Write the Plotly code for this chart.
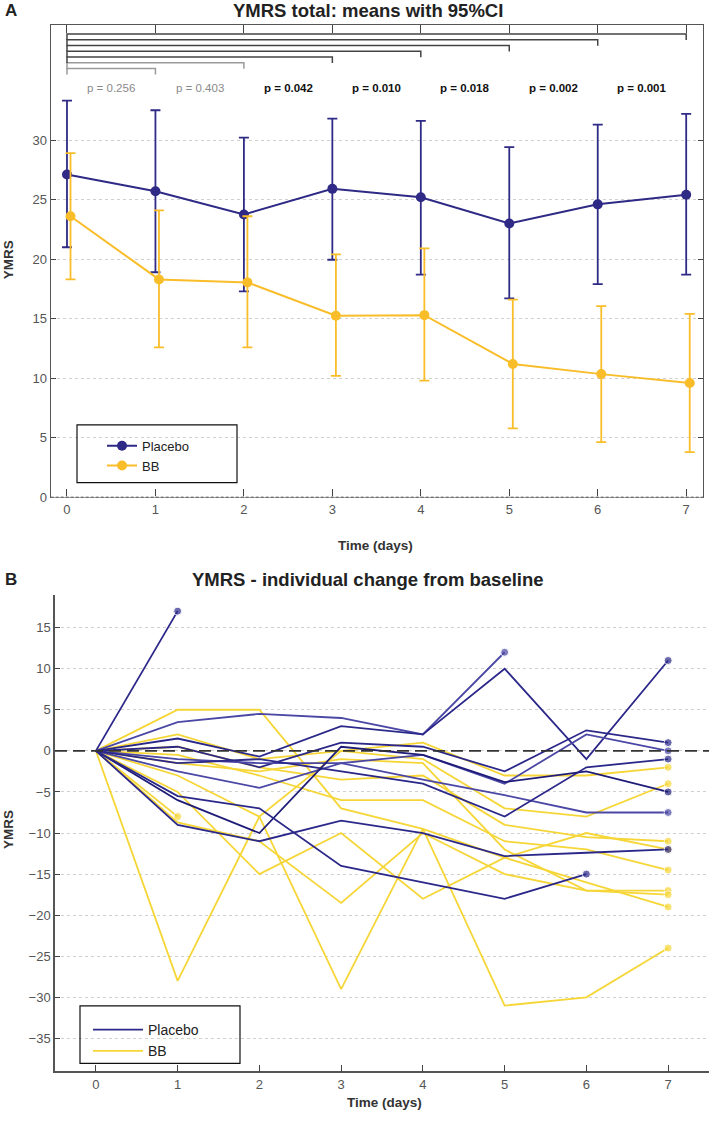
import plotly.graph_objects as go

# ---------------- Panel A data ----------------
days = [0, 1, 2, 3, 4, 5, 6, 7]
placebo_mean = [27.1, 25.7, 23.75, 25.9, 25.2, 23.0, 24.6, 25.4]
placebo_hi = [33.3, 32.5, 30.2, 31.8, 31.6, 29.4, 31.3, 32.2]
placebo_lo = [21.0, 18.9, 17.3, 19.95, 18.7, 16.7, 17.9, 18.7]
bb_mean = [23.6, 18.3, 18.05, 15.25, 15.3, 11.2, 10.35, 9.6]
bb_hi = [28.9, 24.1, 23.6, 20.4, 20.9, 16.6, 16.05, 15.4]
bb_lo = [18.3, 12.6, 12.6, 10.2, 9.8, 5.8, 4.65, 3.8]

bracket_days = [1, 2, 3, 4, 5, 6, 7]
p_labels = ["p = 0.256", "p = 0.403", "p = 0.042", "p = 0.010",
            "p = 0.018", "p = 0.002", "p = 0.001"]
p_significant = [False, False, True, True, True, True, True]

# ---------------- Panel B data ----------------
placebo_changes = [
    [0, 17, None, None, None, None, None, None],
    [0, 3.5, 4.5, 4, 2, 12, None, None],
    [0, 1.5, -0.7, 3, 2, 10, -1, 11],
    [0, 0.5, -2, 1, 0.5, -2.5, 2.5, 1],
    [0, -1, -1.5, -1.5, -0.5, -4, 2, 0],
    [0, -2.5, -4.5, -1.5, -3.5, -5.4, -7.5, -7.5],
    [0, -1.5, -1.0, -2.5, -4, -8, -2, -1],
    [0, -6, -10, 0.5, -0.5, -3.8, -2.5, -5],
    [0, -5.5, -7, -14, -16, -18, -15, None],
    [0, -9, -11, -8.5, -10, -12.8, -12.4, -12],
]
placebo_shades = ["#2B2889", "#4B47A5", "#2B2889", "#2B2889", "#4B47A5",
                  "#4B47A5", "#2B2889", "#1F1C78", "#2B2889", "#2B2889"]
bb_changes = [
    [0, 5, 5, -7, -9.5, -13, -16, -19],
    [0, 2, -1, 0, 1, -3, -3, -2],
    [0, -8, None, None, None, None, None, None],
    [0, -28, -8, 0, -1, -7, -8, -4],
    [0, 0.5, -2, -3.5, -3, -9, -10.5, -11],
    [0, -0.5, -3, -6, -6, -11, -12, -14.5],
    [0, -3, -8, -29, -9.5, -31, -30, -24],
    [0, -5, -15, -10, -18, -13, -10, -12],
    [0, -8.7, -11, -18.5, -10, -15, -17, -17],
    [0, -1.5, -2.5, -1, -1.5, -12, -17, -17.5],
]

PLACEBO_A = "#2E2A85"
BB_A = "#F9BD2A"
BB_B = "#F6D637"
W, H = 709, 1123
FONT = "Liberation Sans, Arial, sans-serif"
BB_OFFSET = 0.04

fig = go.Figure()

# Panel A traces
fig.add_trace(go.Scatter(
    x=days, y=placebo_mean, mode="lines+markers", name="Placebo",
    line=dict(color=PLACEBO_A, width=2), marker=dict(size=10, color=PLACEBO_A),
    error_y=dict(type="data", symmetric=False,
                 array=[h - m for h, m in zip(placebo_hi, placebo_mean)],
                 arrayminus=[m - l for m, l in zip(placebo_mean, placebo_lo)],
                 color=PLACEBO_A, thickness=1.8, width=5),
    xaxis="x", yaxis="y", legend="legend"))
fig.add_trace(go.Scatter(
    x=[d + BB_OFFSET for d in days], y=bb_mean, mode="lines+markers", name="BB",
    line=dict(color=BB_A, width=2), marker=dict(size=10, color=BB_A),
    error_y=dict(type="data", symmetric=False,
                 array=[h - m for h, m in zip(bb_hi, bb_mean)],
                 arrayminus=[m - l for m, l in zip(bb_mean, bb_lo)],
                 color=BB_A, thickness=1.8, width=5),
    xaxis="x", yaxis="y", legend="legend"))


def last_index(vals):
    return max(i for i, v in enumerate(vals) if v is not None)


# Panel B traces
for vals in bb_changes:
    li = last_index(vals)
    fig.add_trace(go.Scatter(
        x=days, y=vals, mode="lines+markers", showlegend=False,
        line=dict(color=BB_B, width=1.8),
        marker=dict(color=BB_B, size=[8 if i == li else 0 for i in range(len(vals))]),
        xaxis="x2", yaxis="y2"))
for vals, col in zip(placebo_changes, placebo_shades):
    li = last_index(vals)
    fig.add_trace(go.Scatter(
        x=days, y=vals, mode="lines+markers", showlegend=False,
        line=dict(color=col, width=1.8),
        marker=dict(color=col, size=[8 if i == li else 0 for i in range(len(vals))]),
        xaxis="x2", yaxis="y2"))

# legend entries for panel B
fig.add_trace(go.Scatter(x=[None], y=[None], mode="lines", name="Placebo",
                         line=dict(color="#2B2889", width=1.7),
                         xaxis="x2", yaxis="y2", legend="legend2"))
fig.add_trace(go.Scatter(x=[None], y=[None], mode="lines", name="BB",
                         line=dict(color=BB_B, width=1.7),
                         xaxis="x2", yaxis="y2", legend="legend2"))

# ---------------- Layout geometry ----------------
ax_a = dict(l=50.7, r=703, t=25, b=501)
ax_b = dict(l=55, r=709, t=599, b=1079)


def px(v):
    return v / W


def py(v):
    return 1 - v / H


ya_range = [0, 39.67]
xa_range = [-0.184, 7.19]

shapes = []
annotations = []

# brackets for panel A
top_level = 38.9
step = 0.483
drop = 0.5
for k, sig in zip(bracket_days, p_significant):
    yk = top_level - (7 - k) * step
    col = "#444444" if sig else "#9A9A9A"
    shapes.append(dict(type="path", xref="x", yref="y",
                       path=f"M 0,{yk - drop} L 0,{yk} L {k},{yk} L {k},{yk - drop}",
                       line=dict(color=col, width=1.5)))
for k, lab, sig in zip(bracket_days, p_labels, p_significant):
    annotations.append(dict(x=k - 0.5, y=34.4, xref="x", yref="y",
                            text=f"<b>{lab}</b>" if sig else lab,
                            showarrow=False, xanchor="center", yanchor="middle",
                            font=dict(size=11.5, color="#111111" if sig else "#8A8A8A", family=FONT)))

# dashed zero line bottom of panel A
shapes.append(dict(type="line", xref="x", yref="y", x0=xa_range[0], x1=xa_range[1], y0=0, y1=0,
                   line=dict(color="white", width=2.5), layer="above"))
shapes.append(dict(type="line", xref="x", yref="y", x0=xa_range[0], x1=xa_range[1], y0=0, y1=0,
                   line=dict(color="#333333", width=1.2, dash="3px,2px"), layer="above"))
# zero reference line panel B
shapes.append(dict(type="line", xref="x2", yref="y2", x0=-0.5, x1=7.5, y0=0, y1=0,
                   line=dict(color="#333333", width=1.6, dash="12px,6px"), layer="above"))

# legend boxes
shapes.append(dict(type="rect", xref="paper", yref="paper", x0=px(77), x1=px(237),
                   y0=py(486), y1=py(428), line=dict(color="#111111", width=1.2)))
shapes.append(dict(type="rect", xref="paper", yref="paper", x0=px(80), x1=px(240),
                   y0=py(1071), y1=py(1013), line=dict(color="#111111", width=1.2)))


def label(x, y, text, size, color="#222222", angle=0):
    return dict(x=px(x), y=py(y), xref="paper", yref="paper", text=text, textangle=angle,
                showarrow=False, xanchor="center", yanchor="middle",
                font=dict(size=size, color=color, family=FONT))


annotations += [
    label(368, 11, "<b>YMRS total: means with 95%CI</b>", 18.5),
    label(11, 11, "<b>A</b>", 17),
    label(376, 549, "<b>Time (days)</b>", 13.5, "#333333"),
    label(8, 262, "<b>YMRS</b>", 13.5, "#333333", -90),
    label(368, 584, "<b>YMRS - individual change from baseline</b>", 18.5),
    label(11, 584, "<b>B</b>", 17),
    label(384, 1110, "<b>Time (days)</b>", 13.5, "#333333"),
    label(8, 836, "<b>YMRS</b>", 13.5, "#333333", -90),
]

tickfont = dict(size=13, color="#555555", family=FONT)

fig.update_layout(
    width=W, height=H, margin=dict(l=0, r=0, t=0, b=0),
    paper_bgcolor="white", plot_bgcolor="white",
    font=dict(family=FONT),
    xaxis=dict(domain=[px(ax_a["l"]), px(ax_a["r"])], range=xa_range, anchor="y",
               tickvals=days, ticks="inside", ticklen=8,
               tickcolor="#444444", showline=True, linecolor="#555555", linewidth=1.2,
               mirror="ticks", showgrid=False, zeroline=False, tickfont=tickfont),
    yaxis=dict(domain=[py(ax_a["b"]), py(ax_a["t"])], range=ya_range, anchor="x",
               tickvals=[0, 5, 10, 15, 20, 25, 30], ticks="inside", ticklen=5,
               tickcolor="#444444", showline=True, linecolor="#555555", linewidth=1.2,
               mirror="ticks", showgrid=True, gridcolor="#D0D0D0", griddash="dot",
               gridwidth=1, zeroline=False, tickfont=tickfont),
    xaxis2=dict(domain=[px(ax_b["l"]), px(ax_b["r"])], range=[-0.5, 7.5], anchor="y2",
                tickvals=days, ticks="inside", ticklen=7, tickcolor="#444444",
                showline=True, linecolor="#555555", linewidth=1.5,
                showgrid=False, zeroline=False, tickfont=tickfont),
    yaxis2=dict(domain=[py(ax_b["b"]), py(ax_b["t"])], range=[-39, 19], anchor="x2",
                tickvals=[-35, -30, -25, -20, -15, -10, -5, 0, 5, 10, 15], ticks="inside",
                ticklen=5, tickcolor="#444444", showline=True, linecolor="#555555",
                linewidth=1.5, showgrid=True, gridcolor="#D0D0D0", griddash="dot",
                zeroline=False, tickfont=tickfont),
    legend=dict(x=px(102), y=py(459), xanchor="left", yanchor="middle",
                bgcolor="rgba(0,0,0,0)", borderwidth=0, itemwidth=30,
                font=dict(size=13, color="#222222", family=FONT), tracegroupgap=0),
    legend2=dict(x=px(88), y=py(1048), xanchor="left", yanchor="middle",
                 bgcolor="rgba(0,0,0,0)", borderwidth=0, itemwidth=50,
                 font=dict(size=14, color="#222222", family=FONT), tracegroupgap=0),
    shapes=shapes, annotations=annotations, showlegend=True,
)

fig.write_html("out.html", config={"displayModeBar": False},
               post_script="document.body.style.margin='0';")
